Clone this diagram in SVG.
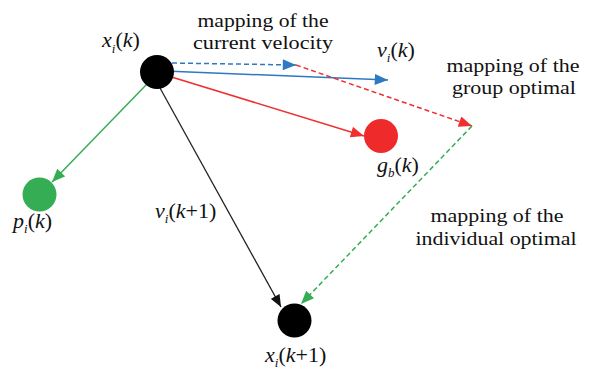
<svg xmlns="http://www.w3.org/2000/svg" width="589" height="378" viewBox="0 0 589 378">
<style>
.lbl{font-family:"Liberation Serif","Times New Roman",serif;font-size:19px;fill:#111;text-anchor:middle}
.m{font-family:"Liberation Serif","Times New Roman",serif;font-size:22px;fill:#111}
.it{font-style:italic}
.sub{font-size:13px;font-style:italic}
.blue{stroke:#2f78c4;stroke-width:1.5;fill:none}
.red{stroke:#ee3030;stroke-width:1.5;fill:none}
.green{stroke:#35ad55;stroke-width:1.5;fill:none}
.black{stroke:#222;stroke-width:1.3;fill:none}
.dash{stroke-dasharray:5 3}
</style>
<defs>
<marker id="ab" viewBox="0 0 12 10" refX="12" refY="5" markerWidth="14" markerHeight="11" markerUnits="userSpaceOnUse" orient="auto"><path d="M0,0L12,5L0,10z" fill="#2f78c4"/></marker>
<marker id="ar" viewBox="0 0 12 10" refX="12" refY="5" markerWidth="14" markerHeight="11" markerUnits="userSpaceOnUse" orient="auto"><path d="M0,0L12,5L0,10z" fill="#ee3030"/></marker>
<marker id="ag" viewBox="0 0 12 10" refX="12" refY="5" markerWidth="14" markerHeight="11" markerUnits="userSpaceOnUse" orient="auto"><path d="M0,0L12,5L0,10z" fill="#35ad55"/></marker>
<marker id="ak" viewBox="0 0 12 10" refX="12" refY="5" markerWidth="13" markerHeight="10" markerUnits="userSpaceOnUse" orient="auto"><path d="M0,0L12,5L0,10z" fill="#111"/></marker>
</defs>
<g id="connectors">
<line class="blue" x1="165" y1="71" x2="388" y2="80" marker-end="url(#ab)"/>
<line class="red" x1="165" y1="75" x2="364" y2="136" marker-end="url(#ar)"/>
<line class="green" x1="147" y1="84" x2="52" y2="182" marker-end="url(#ag)"/>
<line class="black" x1="160" y1="88" x2="281" y2="307" marker-end="url(#ak)"/>
<line class="blue dash" x1="172" y1="63" x2="296" y2="65" marker-end="url(#ab)"/>
<line class="red dash" x1="296" y1="65" x2="472" y2="126" marker-end="url(#ar)"/>
<line class="green dash" x1="472" y1="126" x2="301" y2="304" marker-end="url(#ag)"/>
</g>
<g id="node-xk">
<circle cx="157" cy="72" r="17" fill="#000"/>
<text class="m" x="102" y="47"><tspan class="it">x</tspan><tspan class="sub" dy="6">i</tspan><tspan dy="-6">(</tspan><tspan class="it">k</tspan><tspan>)</tspan></text>
</g>
<g id="node-gb">
<circle cx="381" cy="136" r="17" fill="#ee2a2a"/>
<text class="m" x="377" y="172"><tspan class="it">g</tspan><tspan class="sub" dy="5">b</tspan><tspan dy="-5">(</tspan><tspan class="it">k</tspan><tspan>)</tspan></text>
</g>
<g id="node-pi">
<circle cx="39.5" cy="194.5" r="17" fill="#35ad55"/>
<text class="m" x="13" y="228"><tspan class="it">p</tspan><tspan class="sub" dy="5">i</tspan><tspan dy="-5">(</tspan><tspan class="it">k</tspan><tspan>)</tspan></text>
</g>
<g id="node-xk1">
<circle cx="294.5" cy="320.5" r="17" fill="#000"/>
<text class="m" x="265" y="362"><tspan class="it">x</tspan><tspan class="sub" dy="5">i</tspan><tspan dy="-5">(</tspan><tspan class="it">k</tspan><tspan>+1)</tspan></text>
</g>
<g id="label-vk">
<text class="m" x="377" y="57"><tspan class="it">v</tspan><tspan class="sub" dy="5">i</tspan><tspan dy="-5">(</tspan><tspan class="it">k</tspan><tspan>)</tspan></text>
</g>
<g id="label-vk1">
<text class="m" x="155" y="218"><tspan class="it">v</tspan><tspan class="sub" dy="5">i</tspan><tspan dy="-5">(</tspan><tspan class="it">k</tspan><tspan>+1)</tspan></text>
</g>
<g id="label-current">
<text class="lbl" x="263" y="27" textLength="131" lengthAdjust="spacingAndGlyphs">mapping of the</text>
<text class="lbl" x="263" y="49" textLength="140" lengthAdjust="spacingAndGlyphs">current velocity</text>
</g>
<g id="label-group">
<text class="lbl" x="513" y="72" textLength="133" lengthAdjust="spacingAndGlyphs">mapping of the</text>
<text class="lbl" x="514" y="94" textLength="124" lengthAdjust="spacingAndGlyphs">group optimal</text>
</g>
<g id="label-individual">
<text class="lbl" x="497" y="222" textLength="133" lengthAdjust="spacingAndGlyphs">mapping of the</text>
<text class="lbl" x="496" y="245" textLength="161" lengthAdjust="spacingAndGlyphs">individual optimal</text>
</g>
</svg>
